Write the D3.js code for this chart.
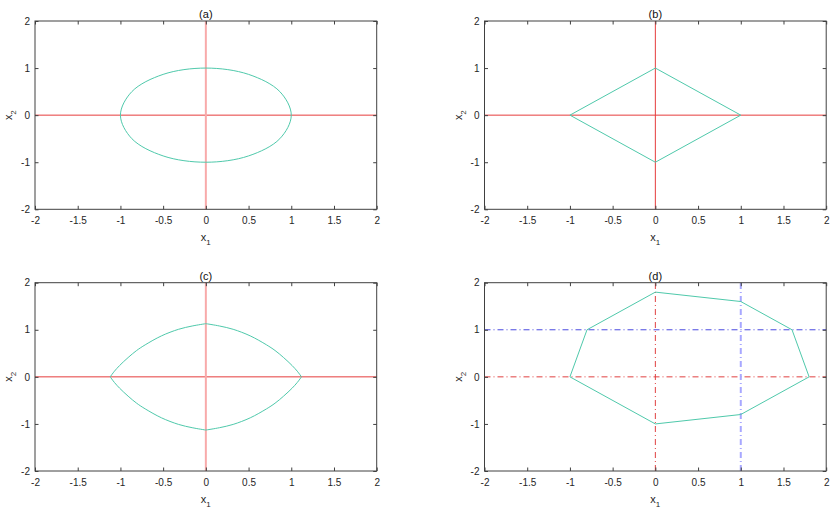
<!DOCTYPE html>
<html>
<head>
<meta charset="utf-8">
<script src="https://cdn.jsdelivr.net/npm/d3@7"></script>
<style>
  body { margin: 0; background: #fff; }
  svg { font-family: "Liberation Sans", Arial, sans-serif; }
</style>
</head>
<body>
<div class="chart"></div>
<script>
var width = 839,
    height = 511;

// tick values shared by every panel
let xTicks = [-2, -1.5, -1, -0.5, 0, 0.5, 1, 1.5, 2];
let yTicks = [-2, -1, 0, 1, 2];

// (a) unit circle, read every 30 degrees
let circleX = [1, 0.866, 0.5, 0, -0.5, -0.866, -1, -0.866, -0.5, 0, 0.5, 0.866];
let circleY = [0, 0.5, 0.866, 1, 0.866, 0.5, 0, -0.5, -0.866, -1, -0.866, -0.5];

// (b) diamond
let diamondX = [1, 0, -1, 0];
let diamondY = [0, 1, 0, -1];

// (c) lens, one quarter arc (x1 >= 0, x2 >= 0),
// the other quarters are its mirror images
let lensX = [1.12, 1.07, 1.01, 0.91, 0.81, 0.71, 0.52, 0.32, 0.16, 0];
let lensY = [0, 0.12, 0.24, 0.41, 0.56, 0.68, 0.87, 1.01, 1.08, 1.13];

// (d) octagon
let polyX = [-1, -0.8, 0, 1, 1.6, 1.8, 1, 0];
let polyY = [0, 1, 1.8, 1.6, 1, 0, -0.8, -1];

let teal = "#4fc9ab";

let panels = [
    {title: "(a)", left: 35, top: 21, shape: "circle"},
    {title: "(b)", left: 484.5, top: 21, shape: "diamond"},
    {title: "(c)", left: 35, top: 282.7, shape: "lens"},
    {title: "(d)", left: 484.5, top: 282.7, shape: "poly"}
];

let pw = 341.7,
    ph = 188.3;

let svg = d3.select(".chart")
    .append("svg")
    .attr("width", width)
    .attr("height", height);

let x = d3.scaleLinear().domain([-2, 2]).range([0, pw]);
let y = d3.scaleLinear().domain([-2, 2]).range([ph, 0]);

let line = d3.line()
    .x(d => x(d[0]))
    .y(d => y(d[1]));

function hline(g, v, color, w, dash) {
    g.append("line")
        .attr("x1", x(-2)).attr("x2", x(2))
        .attr("y1", y(v)).attr("y2", y(v))
        .attr("stroke", color)
        .attr("stroke-width", w)
        .attr("stroke-dasharray", dash);
}

function vline(g, v, color, w, dash) {
    g.append("line")
        .attr("x1", x(v)).attr("x2", x(v))
        .attr("y1", y(-2)).attr("y2", y(2))
        .attr("stroke", color)
        .attr("stroke-width", w)
        .attr("stroke-dasharray", dash);
}

let dashDot = "6,3,1,3";

panels.forEach(function(p) {
    let g = svg.append("g")
        .attr("transform", `translate(${p.left}, ${p.top})`);

    let plot = g.append("g");

    if (p.shape == "circle") {
        hline(plot, 0, "#e63c3c", 1, null);
        vline(plot, 0, "#f8aaaa", 2, null);
        plot.append("path")
            .attr("d", line.curve(d3.curveCatmullRomClosed)(circleX.map((v, i) => [v, circleY[i]])))
            .attr("fill", "none")
            .attr("stroke", teal);
    } else if (p.shape == "diamond") {
        hline(plot, 0, "#e63c3c", 1, null);
        vline(plot, 0, "#e63c3c", 1, null);
        plot.append("path")
            .attr("d", line.curve(d3.curveLinearClosed)(diamondX.map((v, i) => [v, diamondY[i]])))
            .attr("fill", "none")
            .attr("stroke", teal);
    } else if (p.shape == "lens") {
        hline(plot, 0, "#e63c3c", 1, null);
        vline(plot, 0, "#f8aaaa", 2, null);
        // one smooth arc per quadrant so the corners stay sharp
        [[1, 1], [-1, 1], [-1, -1], [1, -1]].forEach(function(s) {
            let pts = lensX.map((v, i) => [s[0] * v, s[1] * lensY[i]]);
            plot.append("path")
                .attr("d", line.curve(d3.curveCatmullRom)(pts))
                .attr("fill", "none")
                .attr("stroke", teal);
        });
    } else {
        hline(plot, 0, "#e04040", 1, dashDot);
        vline(plot, 0, "#e04040", 1, dashDot);
        hline(plot, 1, "#4a4ae0", 1, dashDot);
        vline(plot, 1, "#a8a8ff", 2, dashDot);
        plot.append("path")
            .attr("d", line.curve(d3.curveLinearClosed)(polyX.map((v, i) => [v, polyY[i]])))
            .attr("fill", "none")
            .attr("stroke", teal);
    }

    // axes with inward ticks on all four sides
    let fmt = d => String(d);

    g.append("g")
        .attr("transform", `translate(0, ${ph})`)
        .call(d3.axisBottom(x).tickValues(xTicks).tickFormat(fmt).tickSizeInner(-3.5).tickSizeOuter(0).tickPadding(8));
    g.append("g")
        .call(d3.axisLeft(y).tickValues(yTicks).tickFormat(fmt).tickSizeInner(-3.5).tickSizeOuter(0).tickPadding(5));
    g.append("g")
        .call(d3.axisTop(x).tickValues(xTicks).tickFormat("").tickSizeInner(-3.5).tickSizeOuter(0));
    g.append("g")
        .attr("transform", `translate(${pw}, 0)`)
        .call(d3.axisRight(y).tickValues(yTicks).tickFormat("").tickSizeInner(-3.5).tickSizeOuter(0));

    g.selectAll(".domain").remove();
    g.selectAll(".tick line").attr("stroke", "#404040");
    g.selectAll(".tick text")
        .attr("fill", "#262626")
        .style("font-size", "10px");

    g.append("rect")
        .attr("width", pw)
        .attr("height", ph)
        .attr("fill", "none")
        .attr("stroke", "#404040")
        .attr("stroke-width", 1);

    g.append("text")
        .attr("x", pw / 2)
        .attr("y", -3)
        .attr("text-anchor", "middle")
        .attr("fill", "#111")
        .style("font-size", "11px")
        .text(p.title);

    let xl = g.append("text")
        .attr("x", pw / 2)
        .attr("y", ph + 32)
        .attr("text-anchor", "middle")
        .attr("fill", "#262626")
        .style("font-size", "11px");
    xl.append("tspan").text("x");
    xl.append("tspan").attr("dy", 4).style("font-size", "8px").text("1");

    let yl = g.append("text")
        .attr("transform", `translate(-23, ${ph / 2}) rotate(-90)`)
        .attr("text-anchor", "middle")
        .attr("fill", "#262626")
        .style("font-size", "11px");
    yl.append("tspan").text("x");
    yl.append("tspan").attr("dy", 4).style("font-size", "8px").text("2");
});
</script>
</body>
</html>
